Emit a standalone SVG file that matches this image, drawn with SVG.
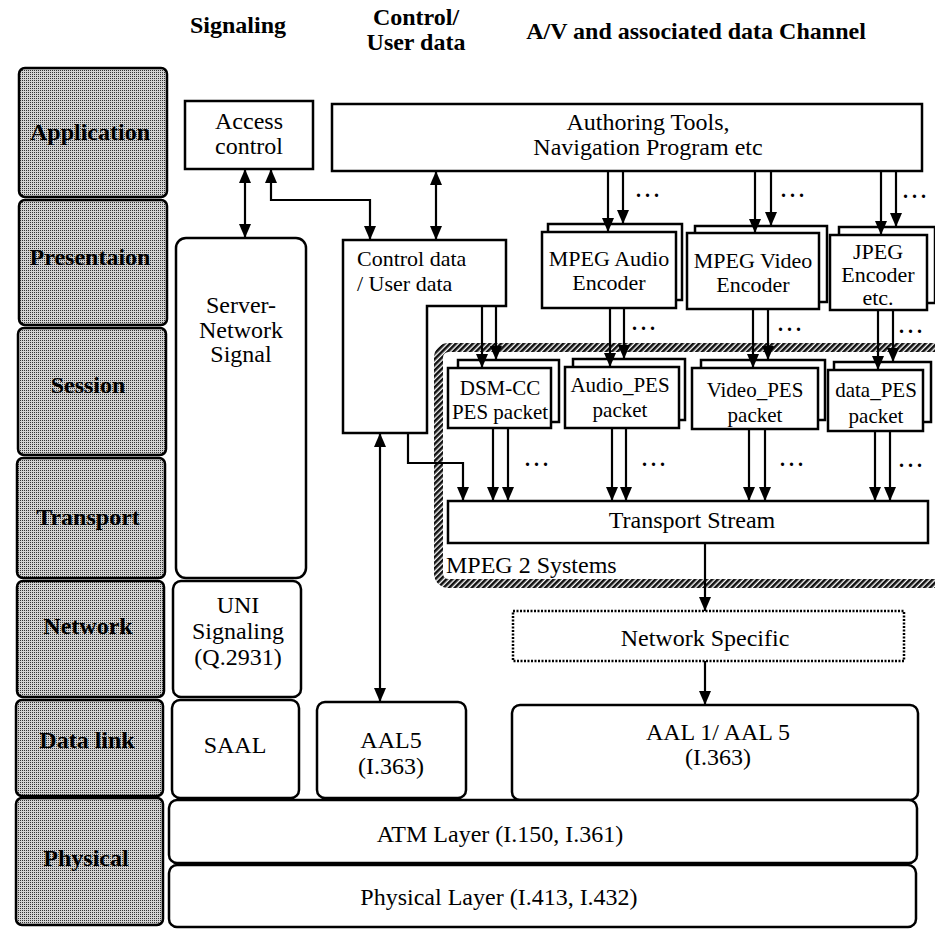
<svg xmlns="http://www.w3.org/2000/svg" width="935" height="931" viewBox="0 0 935 931">
<defs>
<pattern id="dots" width="2" height="2" patternUnits="userSpaceOnUse">
<rect width="2" height="2" fill="#d2d2d2"/><rect width="1" height="1" fill="#333"/>
</pattern>
<pattern id="hatch" width="4" height="4" patternUnits="userSpaceOnUse" patternTransform="rotate(45)">
<rect width="4" height="4" fill="#fff"/><rect width="2.6" height="4" fill="#111"/>
</pattern>
<marker id="ah" viewBox="0 0 14 12" refX="14" refY="6" markerWidth="14" markerHeight="12" markerUnits="userSpaceOnUse" orient="auto-start-reverse">
<path d="M0,0 L14,6 L0,12 z" fill="#000"/>
</marker>
</defs>
<style>
.layer{fill:url(#dots);stroke:#000;stroke-width:2.5}
.lt{font-family:"Liberation Serif",serif;font-weight:bold;font-size:24px;text-anchor:middle;fill:#000}
.hd{font-family:"Liberation Serif",serif;font-weight:bold;font-size:24px;text-anchor:middle;fill:#000}
.box{fill:#fff;stroke:#000;stroke-width:2.5}
.t{font-family:"Liberation Serif",serif;font-size:24px;text-anchor:middle;fill:#000}
.tc{font-family:"Liberation Serif",serif;font-size:22px;text-anchor:start;fill:#000}
.ts{font-family:"Liberation Serif",serif;font-size:22px;text-anchor:middle;fill:#000}
.tp{font-family:"Liberation Serif",serif;font-size:21px;text-anchor:middle;fill:#000}
.ln{fill:none;stroke:#000;stroke-width:2.2}
.ar{marker-end:url(#ah)}
.ar2{marker-start:url(#ah);marker-end:url(#ah)}
.dt{font-family:"Liberation Serif",serif;font-weight:bold;font-size:20px;letter-spacing:4px;fill:#000}
</style>
<rect width="935" height="931" fill="#fff"/>

<g id="headers">
<text class="hd" x="238" y="33">Signaling</text>
<text class="hd" x="416" y="25">Control/</text>
<text class="hd" x="416" y="50">User data</text>
<text class="hd" x="696" y="39">A/V and associated data Channel</text>
</g>

<g id="layer-application"><rect class="layer" x="19" y="68" width="148" height="129" rx="6"/><text class="lt" x="90" y="140">Application</text></g>
<g id="layer-presentation"><rect class="layer" x="19" y="200" width="148" height="125" rx="6"/><text class="lt" x="90" y="265">Presentaion</text></g>
<g id="layer-session"><rect class="layer" x="18" y="328" width="148" height="127" rx="6"/><text class="lt" x="88" y="393">Session</text></g>
<g id="layer-transport"><rect class="layer" x="17" y="458" width="148" height="120" rx="6"/><text class="lt" x="88" y="525">Transport</text></g>
<g id="layer-network"><rect class="layer" x="17" y="581" width="147" height="116" rx="6"/><text class="lt" x="88" y="634">Network</text></g>
<g id="layer-datalink"><rect class="layer" x="16" y="700" width="147" height="96" rx="6"/><text class="lt" x="87" y="748">Data link</text></g>
<g id="layer-physical"><rect class="layer" x="16" y="798" width="147" height="127" rx="6"/><text class="lt" x="86" y="866">Physical</text></g>

<g id="mpeg2-systems">
<rect x="438.5" y="347.5" width="520" height="236" rx="10" fill="none" stroke="url(#hatch)" stroke-width="9"/>
<text class="t" x="446" y="573" style="text-anchor:start">MPEG 2 Systems</text>
</g>

<g id="access-control"><rect class="box" x="185" y="101" width="128" height="68"/><text class="t" x="249" y="129">Access</text><text class="t" x="249" y="154">control</text></g>
<g id="authoring-tools"><rect class="box" x="332" y="104" width="590" height="67"/><text class="t" x="648" y="130">Authoring Tools,</text><text class="t" x="648" y="155">Navigation Program etc</text></g>
<g id="server-network-signal"><rect class="box" x="176" y="238" width="130" height="340" rx="10"/><text class="t" x="241" y="313">Server-</text><text class="t" x="241" y="338">Network</text><text class="t" x="241" y="362">Signal</text></g>
<g id="control-data"><path class="box" d="M343,240 H506 V306 H427 V433 H343 Z"/><text class="tc" x="357" y="266">Control data</text><text class="tc" x="357" y="291">/ User data</text></g>

<g id="mpeg-audio-encoder"><rect class="box" x="548" y="224" width="134" height="76"/><rect class="box" x="542" y="232" width="134" height="76"/><text class="ts" x="609" y="266">MPEG Audio</text><text class="ts" x="609" y="290">Encoder</text></g>
<g id="mpeg-video-encoder"><rect class="box" x="695" y="226" width="132" height="76"/><rect class="box" x="687" y="233" width="132" height="76"/><text class="ts" x="753" y="268">MPEG Video</text><text class="ts" x="753" y="292">Encoder</text></g>
<g id="jpeg-encoder"><rect class="box" x="839" y="227" width="96" height="76"/><rect class="box" x="830" y="235" width="97" height="75"/><text class="ts" x="878" y="259">JPEG</text><text class="ts" x="878" y="282">Encoder</text><text class="ts" x="878" y="305">etc.</text></g>

<g id="dsmcc-pes"><rect class="box" x="458" y="360" width="101" height="62"/><rect class="box" x="448" y="368" width="103" height="60"/><text class="tp" x="500" y="395">DSM-CC</text><text class="tp" x="500" y="419">PES packet</text></g>
<g id="audio-pes"><rect class="box" x="573" y="359" width="112" height="61"/><rect class="box" x="565" y="367" width="114" height="61"/><text class="tp" x="620" y="392">Audio_PES</text><text class="tp" x="620" y="417">packet</text></g>
<g id="video-pes"><rect class="box" x="701" y="360" width="124" height="60"/><rect class="box" x="692" y="368" width="126" height="61"/><text class="tp" x="755" y="397">Video_PES</text><text class="tp" x="755" y="422">packet</text></g>
<g id="data-pes"><rect class="box" x="834" y="362" width="97" height="60"/><rect class="box" x="828" y="370" width="95" height="61"/><text class="tp" x="876" y="397">data_PES</text><text class="tp" x="876" y="423">packet</text></g>

<g id="transport-stream"><rect class="box" x="448" y="501" width="480" height="42"/><text class="t" x="692" y="528">Transport Stream</text></g>
<g id="network-specific"><rect x="513" y="611" width="391" height="50" fill="#fff" stroke="#000" stroke-width="2.5" stroke-dasharray="2,1.5"/><text class="t" x="705" y="646">Network Specific</text></g>

<g id="uni-signaling"><rect class="box" x="173" y="581" width="128" height="116" rx="8"/><text class="t" x="238" y="613">UNI</text><text class="t" x="238" y="639">Signaling</text><text class="t" x="238" y="665">(Q.2931)</text></g>
<g id="saal"><rect class="box" x="172" y="700" width="127" height="98" rx="8"/><text class="t" x="235" y="753">SAAL</text></g>
<g id="aal5"><rect class="box" x="317" y="702" width="149" height="96" rx="8"/><text class="t" x="391" y="748">AAL5</text><text class="t" x="391" y="774">(I.363)</text></g>
<g id="aal1-aal5"><rect class="box" x="512" y="705" width="406" height="95" rx="8"/><text class="t" x="718" y="740">AAL 1/ AAL 5</text><text class="t" x="718" y="765">(I.363)</text></g>
<g id="atm-layer"><rect class="box" x="169" y="800" width="748" height="63" rx="8"/><text class="t" x="500" y="842">ATM Layer (I.150, I.361)</text></g>
<g id="physical-layer"><rect class="box" x="169" y="865" width="747" height="62" rx="8"/><text class="t" x="499" y="905">Physical Layer (I.413, I.432)</text></g>

<g id="connectors">
<path class="ln ar2" d="M245,169 V238"/>
<path class="ln ar2" d="M370,240 V200 H271 V169"/>
<path class="ln ar2" d="M436,171 V240"/>
<path class="ln ar" d="M608,171 V232"/>
<path class="ln ar" d="M623,171 V224"/>
<path class="ln ar" d="M755,171 V233"/>
<path class="ln ar" d="M771,171 V226"/>
<path class="ln ar" d="M881,171 V235"/>
<path class="ln ar" d="M896,171 V227"/>
<path class="ln ar" d="M482,306 V368"/>
<path class="ln ar" d="M496,306 V360"/>
<path class="ln ar" d="M610,308 V367"/>
<path class="ln ar" d="M624,308 V359"/>
<path class="ln ar" d="M753,309 V368"/>
<path class="ln ar" d="M768,309 V360"/>
<path class="ln ar" d="M878,310 V370"/>
<path class="ln ar" d="M893,310 V362"/>
<path class="ln ar" d="M493,428 V501"/>
<path class="ln ar" d="M508,428 V501"/>
<path class="ln ar" d="M612,428 V501"/>
<path class="ln ar" d="M626,428 V501"/>
<path class="ln ar" d="M749,429 V501"/>
<path class="ln ar" d="M765,429 V501"/>
<path class="ln ar" d="M875,431 V501"/>
<path class="ln ar" d="M890,431 V501"/>
<path class="ln ar" d="M408,433 V463 H463 V501"/>
<path class="ln ar2" d="M380,433 V702"/>
<path class="ln ar" d="M705,543 V611"/>
<path class="ln ar" d="M705,661 V705"/>
<text class="dt" x="636" y="197">...</text>
<text class="dt" x="781" y="197">...</text>
<text class="dt" x="903" y="198">...</text>
<text class="dt" x="632" y="330">...</text>
<text class="dt" x="778" y="331">...</text>
<text class="dt" x="899" y="333">...</text>
<text class="dt" x="525" y="466">...</text>
<text class="dt" x="642" y="466">...</text>
<text class="dt" x="780" y="466">...</text>
<text class="dt" x="899" y="467">...</text>
</g>
</svg>
